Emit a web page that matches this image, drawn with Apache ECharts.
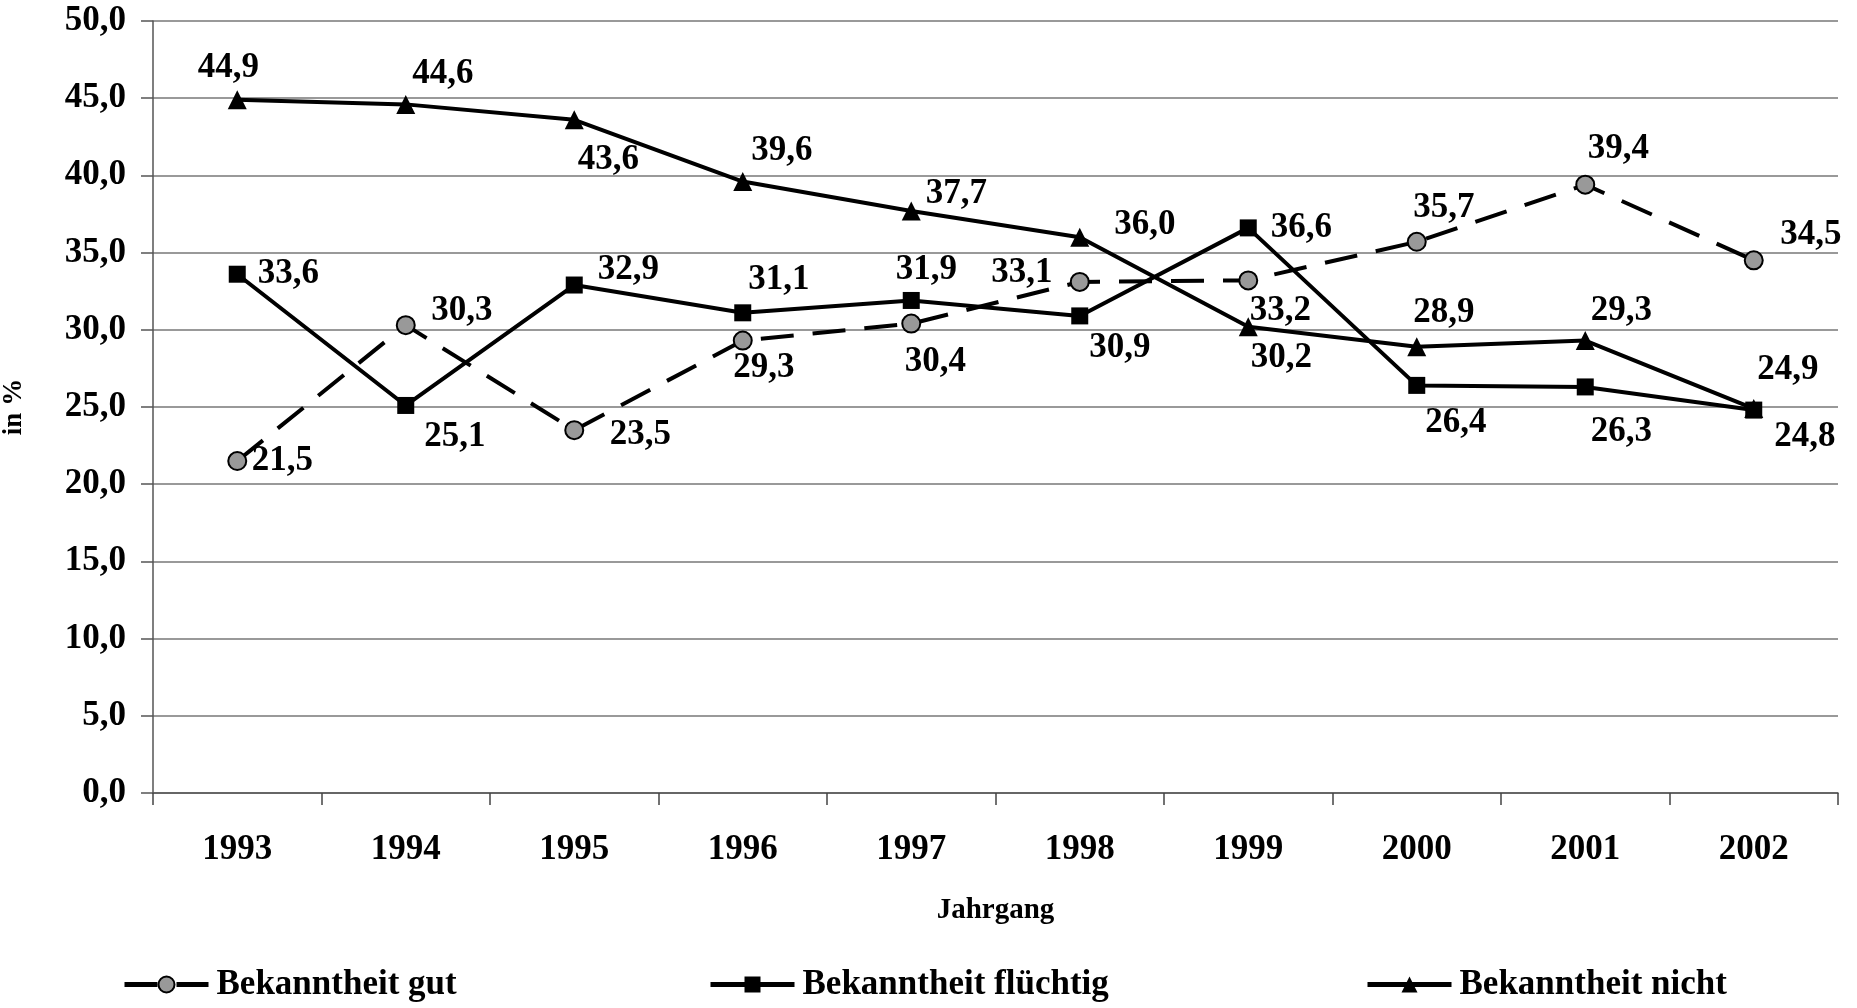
<!DOCTYPE html>
<html>
<head>
<meta charset="utf-8">
<script src="https://cdn.jsdelivr.net/npm/echarts@6/dist/echarts.min.js"></script>
<style>
  html, body { margin: 0; padding: 0; background: #fff; }
  #chart { width: 1857px; height: 1008px; }
</style>
</head>
<body>
<div id="chart"></div>
<script>
// Jahrgang
var years = ['1993', '1994', '1995', '1996', '1997', '1998', '1999', '2000', '2001', '2002'];
// Werte in %
var gut = [21.5, 30.3, 23.5, 29.3, 30.4, 33.1, 33.2, 35.7, 39.4, 34.5];
var fluechtig = [33.6, 25.1, 32.9, 31.1, 31.9, 30.9, 36.6, 26.4, 26.3, 24.8];
var nicht = [44.9, 44.6, 43.6, 39.6, 37.7, 36.0, 30.2, 28.9, 29.3, 24.9];

// Beschriftungsversatz je Punkt (nur Layout)
var offGut = [[45, 0], [56, -14], [66, 5], [21, 27], [24, 38], [-58, -9], [32, 31], [27, -34], [33, -36], [57, -25]];
var offFl = [[51, 0], [49, 31], [54, -15], [36, -33], [15, -31], [40, 32], [53, 0], [39, 38], [36, 45], [51, 27]];
var offNicht = [[-9, -32], [37, -30], [34, 40], [39, -31], [45, -17], [65, -12], [33, 31], [27, -34], [36, -30], [34, -39]];

var FONT = 'Liberation Serif';
function komma(v) { return v.toFixed(1).replace('.', ','); }

function punkte(werte, offs) {
    return werte.map(function (v, i) {
        return { value: v, label: { offset: offs[i] } };
    });
}

var lbl = {
    show: true,
    position: 'inside',
    color: '#000',
    fontFamily: FONT,
    fontWeight: 'bold',
    fontSize: 35,
    formatter: function (p) { return komma(p.value); }
};

var chart = echarts.init(document.getElementById('chart'));
chart.setOption({
    backgroundColor: '#fff',
    animation: false,
    grid: { left: 153, right: 19, top: 21, bottom: 215, outerBoundsMode: 'none' },
    legend: [
        { name: 'Bekanntheit gut', left: 122 },
        { name: 'Bekanntheit flüchtig', left: 708 },
        { name: 'Bekanntheit nicht', left: 1365 }
    ].map(function (l) {
        return {
            data: [{ name: l.name, lineStyle: { width: 5, color: '#000' } }],
            left: l.left,
            top: 967,
            padding: 0,
            itemWidth: 84,
            itemHeight: 20,
            lineStyle: { width: 5, color: '#000' },
            textStyle: { color: '#000', fontFamily: FONT, fontWeight: 'bold', fontSize: 35, padding: [0, 0, 0, 3] }
        };
    }),
    xAxis: {
        type: 'category',
        data: years,
        boundaryGap: true,
        name: 'Jahrgang',
        nameLocation: 'middle',
        nameGap: 103,
        nameTextStyle: { color: '#000', fontFamily: FONT, fontWeight: 'bold', fontSize: 29 },
        axisLine: { lineStyle: { color: '#555', width: 1.5 } },
        axisTick: { show: true, length: 12, lineStyle: { color: '#444', width: 1.5 } },
        axisLabel: { margin: 39, color: '#000', fontFamily: FONT, fontWeight: 'bold', fontSize: 35 }
    },
    yAxis: {
        type: 'value',
        min: 0,
        max: 50,
        interval: 5,
        name: 'in %',
        nameLocation: 'middle',
        nameGap: 125,
        nameRotate: 90,
        nameTextStyle: { color: '#000', fontFamily: FONT, fontWeight: 'bold', fontSize: 27 },
        axisLine: { show: true, lineStyle: { color: '#555', width: 1.5 } },
        axisTick: { show: true, length: 12, lineStyle: { color: '#555', width: 1.5 } },
        splitLine: { lineStyle: { color: '#777', width: 1.5 } },
        axisLabel: {
            margin: 27,
            color: '#000', fontFamily: FONT, fontWeight: 'bold', fontSize: 35,
            formatter: function (v) { return komma(v); }
        }
    },
    series: [
        {
            name: 'Bekanntheit gut',
            type: 'line',
            data: punkte(gut, offGut),
            symbol: 'circle',
            symbolSize: 18,
            itemStyle: { color: '#999', borderColor: '#000', borderWidth: 2 },
            lineStyle: { color: '#000', width: 4, type: [33, 19] },
            label: lbl
        },
        {
            name: 'Bekanntheit flüchtig',
            type: 'line',
            data: punkte(fluechtig, offFl),
            symbol: 'rect',
            symbolSize: 17,
            itemStyle: { color: '#000' },
            lineStyle: { color: '#000', width: 4 },
            label: lbl
        },
        {
            name: 'Bekanntheit nicht',
            type: 'line',
            data: punkte(nicht, offNicht),
            symbol: 'triangle',
            symbolSize: 19,
            itemStyle: { color: '#000' },
            lineStyle: { color: '#000', width: 4 },
            label: lbl
        }
    ]
});
</script>
</body>
</html>
